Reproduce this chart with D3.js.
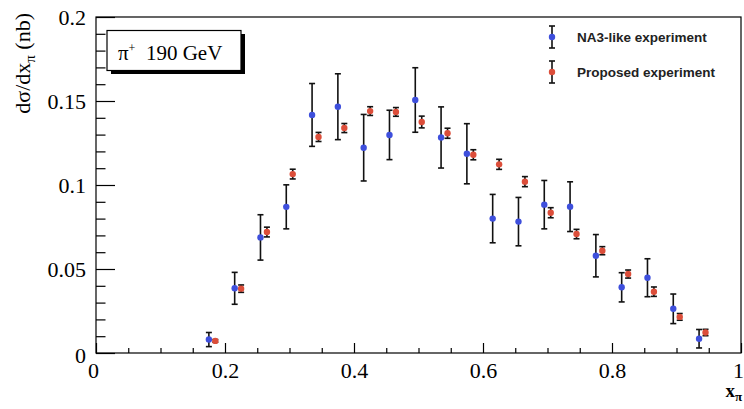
<!DOCTYPE html>
<html>
<head>
<meta charset="utf-8">
<script src="https://cdn.jsdelivr.net/npm/d3@7"></script>
<style>
  body { margin: 0; background: #fff; }
  svg { display: block; }
</style>
</head>
<body>
<div id="chart"></div>
<script>
// data
var na3X   = [0.175, 0.215, 0.255, 0.295, 0.335, 0.375, 0.415, 0.455, 0.495, 0.535,
              0.575, 0.615, 0.655, 0.695, 0.735, 0.775, 0.815, 0.855, 0.895, 0.935];
var na3Y   = [0.0080, 0.0385, 0.0688, 0.0870, 0.1417, 0.1466, 0.1222, 0.1298, 0.1506, 0.1283,
              0.1186, 0.0800, 0.0782, 0.0883, 0.0871, 0.0579, 0.0391, 0.0448, 0.0263, 0.0085];
var na3Err = [0.0042, 0.0095, 0.0135, 0.0131, 0.0187, 0.0196, 0.0198, 0.0147, 0.0192, 0.0182,
              0.0179, 0.0144, 0.0144, 0.0144, 0.0148, 0.0126, 0.0087, 0.0113, 0.0088, 0.0055];

var propX   = [0.185, 0.225, 0.265, 0.305, 0.345, 0.385, 0.425, 0.465, 0.505, 0.545,
               0.585, 0.625, 0.665, 0.705, 0.745, 0.785, 0.825, 0.865, 0.905, 0.945];
var propY   = [0.0072, 0.0383, 0.0720, 0.1065, 0.1286, 0.1339, 0.1440, 0.1435, 0.1375, 0.1308,
               0.1180, 0.1123, 0.1020, 0.0835, 0.0708, 0.0609, 0.0470, 0.0365, 0.0215, 0.0122];
var propErr = [0.0008, 0.0022, 0.0029, 0.0029, 0.0027, 0.0027, 0.0026, 0.0026, 0.0035, 0.0030,
               0.0030, 0.0030, 0.0030, 0.0030, 0.0028, 0.0024, 0.0024, 0.0028, 0.0020, 0.0019];

var xTicks = [0, 0.2, 0.4, 0.6, 0.8, 1];
var xTickLabels = ["0", "0.2", "0.4", "0.6", "0.8", "1"];
var yTicks = [0, 0.05, 0.1, 0.15, 0.2];
var yTickLabels = ["0", "0.05", "0.1", "0.15", "0.2"];
var seriesNames = ["NA3-like experiment", "Proposed experiment"];

var width = 744, height = 409;
var plotL = 96, plotR = 741, plotT = 17, plotB = 353;
var blue = "#3e4fdc", red = "#dc4e3a";
var serif = "'Liberation Serif', 'Times New Roman', serif";
var sans = "'Liberation Sans', Arial, sans-serif";

var svg = d3.select("#chart").append("svg")
    .attr("width", width)
    .attr("height", height);

var x = d3.scaleLinear().domain([0, 1]).range([plotL, plotR]);
var y = d3.scaleLinear().domain([0, 0.2]).range([plotB, plotT]);

// minor ticks every 0.05 on x, 0.01 on y
var xMinor = d3.range(0, 1.0001, 0.05).filter(function (v) { return Math.abs(v * 5 - Math.round(v * 5)) > 1e-6; });
var yMinor = d3.range(0, 0.2001, 0.01).filter(function (v) { return Math.abs(v * 20 - Math.round(v * 20)) > 1e-6; });

// x axis
var xAxis = svg.append("g")
    .attr("transform", "translate(0," + plotB + ")")
    .call(d3.axisBottom(x).tickValues(xTicks).tickSizeInner(-10).tickSizeOuter(0)
        .tickFormat(function (d, i) { return xTickLabels[i]; }));
svg.append("g")
    .attr("transform", "translate(0," + plotB + ")")
    .call(d3.axisBottom(x).tickValues(xMinor).tickSizeInner(-5).tickSizeOuter(0).tickFormat(""));

// y axis
var yAxis = svg.append("g")
    .attr("transform", "translate(" + plotL + ",0)")
    .call(d3.axisLeft(y).tickValues(yTicks).tickSizeInner(-19).tickSizeOuter(0).tickPadding(10)
        .tickFormat(function (d, i) { return yTickLabels[i]; }));
svg.append("g")
    .attr("transform", "translate(" + plotL + ",0)")
    .call(d3.axisLeft(y).tickValues(yMinor).tickSizeInner(-9.5).tickSizeOuter(0).tickFormat(""));

svg.selectAll(".domain").remove();
svg.selectAll(".tick line").attr("stroke", "#000").attr("stroke-width", 1.2);

xAxis.selectAll("text")
    .attr("y", 25).attr("dy", 0)
    .style("font-family", serif).style("font-size", "22px").attr("fill", "#000");
xAxis.selectAll(".tick").filter(function (d) { return d === 0; })
    .select("text").attr("dx", -3);
xAxis.selectAll(".tick").filter(function (d) { return d === 1; })
    .select("text").attr("dx", -3);
yAxis.selectAll("text")
    .style("font-family", serif).style("font-size", "22px").attr("fill", "#000");
yAxis.selectAll(".tick").filter(function (d) { return d === 0; })
    .select("text").attr("dy", "0.45em");

// frame
svg.append("rect")
    .attr("x", plotL).attr("y", plotT)
    .attr("width", plotR - plotL).attr("height", plotB - plotT)
    .attr("fill", "none").attr("stroke", "#000").attr("stroke-width", 1.2);

// axis titles
var yTitle = svg.append("text")
    .attr("transform", "translate(30," + (plotT - 4) + ") rotate(-90)")
    .attr("text-anchor", "end")
    .style("font-family", serif).style("font-size", "22px").attr("fill", "#000");
yTitle.append("tspan").text("d\u03c3/dx");
yTitle.append("tspan").attr("dy", 5).style("font-size", "15px").text("\u03c0");
yTitle.append("tspan").attr("dy", -5).text(" (nb)");

var xTitle = svg.append("text")
    .attr("x", plotR + 1).attr("y", 397)
    .attr("text-anchor", "end")
    .style("font-family", serif).style("font-size", "19px").style("font-weight", "bold").attr("fill", "#000");
xTitle.append("tspan").text("x");
xTitle.append("tspan").attr("dy", 4).style("font-size", "13px").text("\u03c0");

// label box with shadow
svg.append("rect").attr("x", 111).attr("y", 34).attr("width", 134).attr("height", 40).attr("fill", "#000");
svg.append("rect").attr("x", 107).attr("y", 30.5).attr("width", 134).attr("height", 40)
    .attr("fill", "#fff").attr("stroke", "#000").attr("stroke-width", 1.2);
var boxText = svg.append("text")
    .attr("x", 118).attr("y", 60)
    .style("font-family", serif).style("font-size", "21px").attr("fill", "#000");
boxText.append("tspan").text("\u03c0");
boxText.append("tspan").attr("dy", -8).style("font-size", "12px").text("+");
boxText.append("tspan").attr("dy", 8).text("\u2002190 GeV");

// data points with error bars
function drawSeries(xs, ys, errs, color) {
    var pts = xs.map(function (v, i) { return { x: v, y: ys[i], e: errs[i] }; });
    var g = svg.append("g");
    var capW = 3;
    g.selectAll("line.bar").data(pts).enter().append("line")
        .attr("x1", function (d) { return x(d.x); })
        .attr("x2", function (d) { return x(d.x); })
        .attr("y1", function (d) { return y(d.y - d.e); })
        .attr("y2", function (d) { return y(d.y + d.e); })
        .attr("stroke", "#111").attr("stroke-width", 1.6);
    ["lo", "hi"].forEach(function (side) {
        g.selectAll("line.cap" + side).data(pts).enter().append("line")
            .attr("x1", function (d) { return x(d.x) - capW; })
            .attr("x2", function (d) { return x(d.x) + capW; })
            .attr("y1", function (d) { return y(side === "lo" ? d.y - d.e : d.y + d.e); })
            .attr("y2", function (d) { return y(side === "lo" ? d.y - d.e : d.y + d.e); })
            .attr("stroke", "#111").attr("stroke-width", 1.6);
    });
    g.selectAll("circle").data(pts).enter().append("circle")
        .attr("cx", function (d) { return x(d.x); })
        .attr("cy", function (d) { return y(d.y); })
        .attr("r", 3.2)
        .attr("fill", color);
}
drawSeries(na3X, na3Y, na3Err, blue);
drawSeries(propX, propY, propErr, red);

// legend
var legend = svg.append("g");
[blue, red].forEach(function (c, i) {
    var ly = 37 + i * 35, lx = 552;
    legend.append("line").attr("x1", lx).attr("x2", lx).attr("y1", ly - 11).attr("y2", ly + 11)
        .attr("stroke", "#111").attr("stroke-width", 1.6);
    legend.append("line").attr("x1", lx - 3).attr("x2", lx + 3).attr("y1", ly - 11).attr("y2", ly - 11)
        .attr("stroke", "#111").attr("stroke-width", 1.6);
    legend.append("line").attr("x1", lx - 3).attr("x2", lx + 3).attr("y1", ly + 11).attr("y2", ly + 11)
        .attr("stroke", "#111").attr("stroke-width", 1.6);
    legend.append("circle").attr("cx", lx).attr("cy", ly).attr("r", 3.2).attr("fill", c);
    legend.append("text").attr("x", 577).attr("y", ly).attr("dy", "0.36em")
        .style("font-family", sans).style("font-size", "13.5px").style("font-weight", "bold")
        .attr("fill", "#222").text(seriesNames[i]);
});
</script>
</body>
</html>
